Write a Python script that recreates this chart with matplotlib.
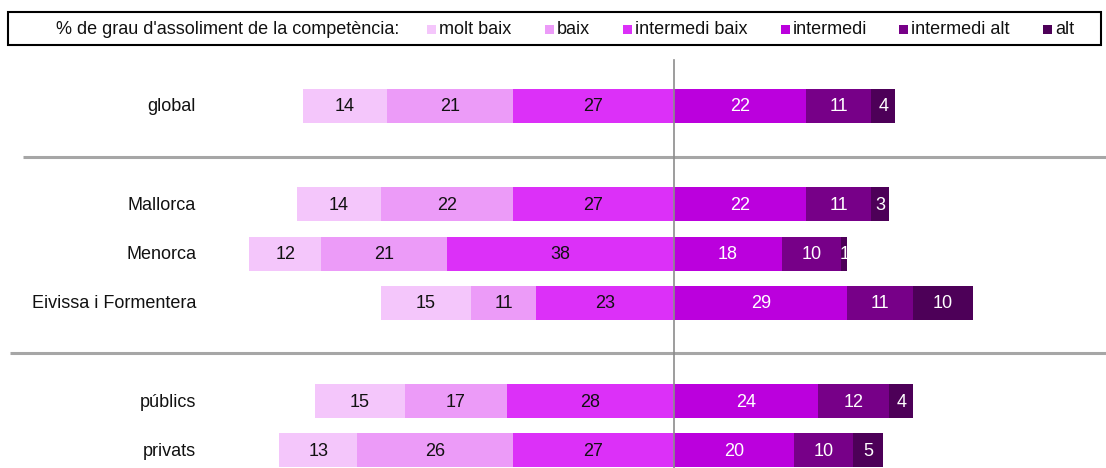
import matplotlib.pyplot as plt
from matplotlib.patches import Rectangle

plt.rcParams['font.family'] = ['Liberation Sans', 'DejaVu Sans']

# Data
groups = ["global", "Mallorca", "Menorca", "Eivissa i Formentera", "públics", "privats"]
row_pos = [0, 2, 3, 4, 6, 7]
levels = ["molt baix", "baix", "intermedi baix", "intermedi", "intermedi alt", "alt"]
molt_baix = [14, 14, 12, 15, 15, 13]
baix = [21, 22, 21, 11, 17, 26]
intermedi_baix = [27, 27, 38, 23, 28, 27]
intermedi = [22, 22, 18, 29, 24, 20]
intermedi_alt = [11, 11, 10, 11, 12, 10]
alt = [4, 3, 1, 10, 4, 5]

colors = ["#F4C6FB", "#EC9BF8", "#DC30F8", "#BB00DD", "#770088", "#4D0058"]
text_colors = ["#111111", "#111111", "#111111", "white", "white", "white"]

W, H = 1106, 468
fig = plt.figure(figsize=(W / 100, H / 100), dpi=100)
ax = fig.add_axes([0, 0, 1, 1])

center_px = 674
scale = 5.98  # px per percent
row_px = 49.2
top_px = 106
ax.set_xlim(-center_px / scale, (W - center_px) / scale)
ax.set_ylim((H - top_px) / row_px, -top_px / row_px)
ax.axis("off")

fs = 13
bar_h = 34 / row_px
left_series = [intermedi_baix, baix, molt_baix]   # drawn outward from center
left_idx = [2, 1, 0]
right_series = [intermedi, intermedi_alt, alt]
right_idx = [3, 4, 5]

for i, y in enumerate(row_pos):
    start = 0
    for s, k in zip(left_series, left_idx):
        v = s[i]
        ax.barh(y, -v, left=start, height=bar_h, color=colors[k], linewidth=0)
        ax.text(start - v / 2, y + 0.02, str(v), ha="center", va="center",
                fontsize=fs, color=text_colors[k])
        start -= v
    start = 0
    for s, k in zip(right_series, right_idx):
        v = s[i]
        ax.barh(y, v, left=start, height=bar_h, color=colors[k], linewidth=0)
        ax.text(start + v / 2, y + 0.02, str(v), ha="center", va="center",
                fontsize=fs, color=text_colors[k])
        start += v
    ax.text((196 - center_px) / scale, y + 0.02, groups[i], ha="right", va="center",
            fontsize=fs, color="#111111")

# separators
ax.plot([(23 - center_px) / scale, (W - center_px) / scale], [1.03, 1.03],
        color="#A6A6A6", lw=2.2, solid_capstyle="butt")
ax.plot([(10 - center_px) / scale, (W - center_px) / scale], [5.02, 5.02],
        color="#A6A6A6", lw=2.2, solid_capstyle="butt")
# center line
ax.plot([0, 0], [(60 - top_px) / row_px, (H - top_px) / row_px],
        color="#8C8C8C", lw=1.2, zorder=5)

# legend box
fig.patches.append(Rectangle((8 / W, 1 - 45 / H), (1101 - 8) / W, 33 / H,
                             transform=fig.transFigure, fill=False,
                             edgecolor="black", lw=1.5))
ly = 1 - 29.5 / H
fig.text(56 / W, ly, "% de grau d'assoliment de la competència:", ha="left",
         va="center", fontsize=fs, color="#111111")
sq_x = [427, 545, 623, 781, 899, 1043]
for k, name in enumerate(levels):
    fig.patches.append(Rectangle((sq_x[k] / W, 1 - 34 / H), 9 / W, 9 / H,
                                 transform=fig.transFigure,
                                 facecolor=colors[k], lw=0))
    fig.text((sq_x[k] + 12) / W, ly, name, ha="left", va="center",
             fontsize=fs, color="#111111")

fig.savefig("out.png", dpi=100)
